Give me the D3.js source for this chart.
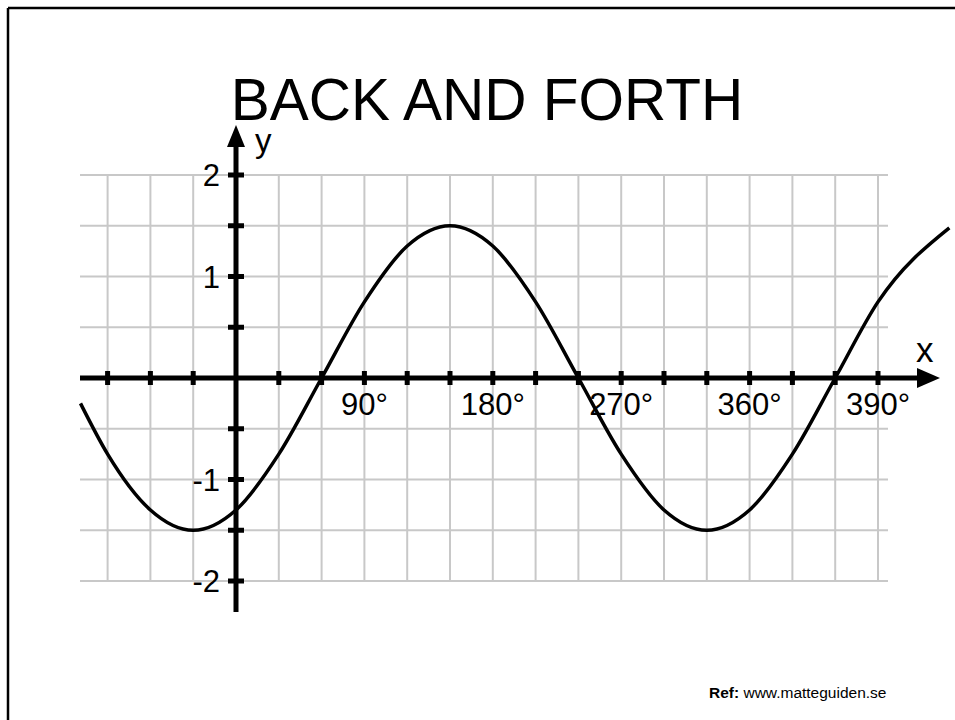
<html>
    <head>
        <style>
            body { margin: 0; background: #fff; }
            text { font-family: "Liberation Sans", Arial, sans-serif; fill: #000; }
            .grid line { stroke: #c8c8c8; stroke-width: 2px; }
            .curve { fill: none; stroke: #000; stroke-width: 3.5px; }
        </style>
    </head>
    <body>
        <svg></svg>
        <script src="https://cdn.jsdelivr.net/npm/d3@7"></script>
        <script>
            // values (degrees -> y)
            const degrees = [-109, -90, -60, -30, 0, 30, 60, 90, 120, 150, 180, 210, 240, 270, 300, 330, 360, 390, 420, 450, 500];
            const values = [-0.25, -0.75, -1.3, -1.5, -1.3, -0.75, 0, 0.75, 1.3, 1.5, 1.3, 0.75, 0, -0.75, -1.3, -1.5, -1.3, -0.75, 0, 0.75, 1.48];
            // tick labels as printed on the original (last one sits on the 450 tick)
            const xTickDegrees = [90, 180, 270, 360, 450];
            const xTickLabels = ["90°", "180°", "270°", "360°", "390°"];
            const yTickValues = [-2, -1, 1, 2];
            const title = "BACK AND FORTH";

            const width = 955,
                height = 720;

            const svg = d3.select("svg")
                .attr("width", width)
                .attr("height", height);

            const x = d3.scaleLinear().domain([0, 450]).range([236, 878]);
            const y = d3.scaleLinear().domain([-2, 2]).range([581, 175]);

            // frame (top and left only)
            svg.append("line").attr("x1", 8).attr("y1", 8).attr("x2", width).attr("y2", 8)
                .attr("stroke", "#000").attr("stroke-width", 2.5);
            svg.append("line").attr("x1", 8).attr("y1", 8).attr("x2", 8).attr("y2", height)
                .attr("stroke", "#000").attr("stroke-width", 2.5);

            // title
            svg.append("text")
                .attr("x", 487)
                .attr("y", 120)
                .attr("text-anchor", "middle")
                .attr("font-size", 58.5)
                .text(title);

            // grid
            const grid = svg.append("g").attr("class", "grid");
            grid.selectAll(".v")
                .data(d3.range(-90, 451, 30))
                .join("line")
                .attr("class", "v")
                .attr("x1", d => x(d)).attr("x2", d => x(d))
                .attr("y1", y(2)).attr("y2", y(-2));
            grid.selectAll(".h")
                .data(d3.range(-2, 2.01, 0.5))
                .join("line")
                .attr("class", "h")
                .attr("x1", 80).attr("x2", 888)
                .attr("y1", d => y(d)).attr("y2", d => y(d));

            // x axis with arrow
            svg.append("line")
                .attr("x1", 80).attr("x2", 925)
                .attr("y1", y(0)).attr("y2", y(0))
                .attr("stroke", "#000").attr("stroke-width", 5);
            svg.append("path")
                .attr("d", "M940," + y(0) + "L917," + (y(0) - 10) + "L917," + (y(0) + 10) + "Z")
                .attr("fill", "#000");

            // y axis with arrow
            svg.append("line")
                .attr("x1", x(0)).attr("x2", x(0))
                .attr("y1", 612).attr("y2", 140)
                .attr("stroke", "#000").attr("stroke-width", 5);
            svg.append("path")
                .attr("d", "M" + x(0) + ",125L" + (x(0) - 9) + ",147L" + (x(0) + 9) + ",147Z")
                .attr("fill", "#000");

            // tick marks
            svg.selectAll(".xtick")
                .data(d3.range(-90, 451, 30).filter(d => d !== 0))
                .join("rect")
                .attr("class", "xtick")
                .attr("x", d => x(d) - 2.5)
                .attr("y", y(0) - 7)
                .attr("width", 5)
                .attr("height", 14);
            svg.selectAll(".ytick")
                .data(d3.range(-2, 2.01, 0.5).filter(d => d !== 0))
                .join("rect")
                .attr("class", "ytick")
                .attr("x", x(0) - 8)
                .attr("y", d => y(d) - 2.5)
                .attr("width", 16)
                .attr("height", 5);

            // tick labels
            svg.selectAll(".xlabel")
                .data(xTickDegrees)
                .join("text")
                .attr("class", "xlabel")
                .attr("x", d => x(d))
                .attr("y", 415)
                .attr("text-anchor", "middle")
                .attr("font-size", 31)
                .attr("fill", "#222")
                .text((d, i) => xTickLabels[i]);
            svg.selectAll(".ylabel")
                .data(yTickValues)
                .join("text")
                .attr("class", "ylabel")
                .attr("x", 220)
                .attr("y", d => y(d) + 11)
                .attr("text-anchor", "end")
                .attr("font-size", 31)
                .attr("fill", "#222")
                .text(d => d);

            // axis names
            svg.append("text").attr("x", 255).attr("y", 152).attr("font-size", 33).attr("fill", "#222").text("y");
            svg.append("text").attr("x", 916).attr("y", 362).attr("font-size", 35).attr("fill", "#222").text("x");

            // the curve
            const line = d3.line()
                .x((d, i) => x(degrees[i]))
                .y(d => y(d))
                .curve(d3.curveMonotoneX);
            svg.append("path")
                .attr("class", "curve")
                .attr("d", line(values));

            // reference note
            const ref = svg.append("text")
                .attr("x", 709)
                .attr("y", 698)
                .attr("font-size", 15.5);
            ref.append("tspan").attr("font-weight", "bold").text("Ref:");
            ref.append("tspan").text(" www.matteguiden.se");
        </script>
    </body>
</html>
